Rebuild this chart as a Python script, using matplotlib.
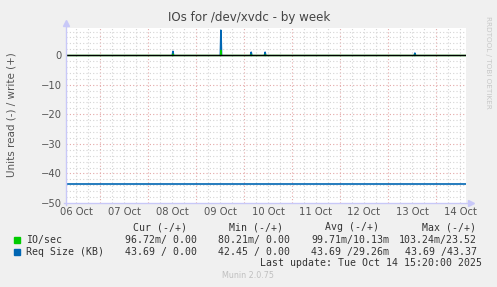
import matplotlib
matplotlib.use('Agg')
import matplotlib.pyplot as plt
from matplotlib.lines import Line2D

W, H = 497, 287

# datos (x en dias desde 07 Oct 00:00)
dias = ['06 Oct', '07 Oct', '08 Oct', '09 Oct', '10 Oct', '11 Oct', '12 Oct', '13 Oct', '14 Oct']
dias_pos = [-0.5, 0.5, 1.5, 2.5, 3.5, 4.5, 5.5, 6.5, 7.5]
x_ini, x_fin = -0.708, 7.625

# escritura (+): picos
picos_t = [1.52, 2.52, 3.15, 3.44, 6.56]
picos_req = [1.3, 8.4, 1.0, 1.0, 0.7]
picos_io = [0.4, 1.7, 0.2, 0.2, 0.1]

# lectura (-)
io_lectura = -0.0997
req_lectura = -43.69

leyenda_nombres = ['IO/sec', 'Req Size (KB)']
leyenda_colores = ['#00CC00', '#0066B3']
cur = ['96.72m/ 0.00', '43.69 / 0.00']
mins = ['80.21m/ 0.00', '42.45 / 0.00']
avgs = ['99.71m/10.13m', '43.69 /29.26m']
maxs = ['103.24m/23.52', '43.69 /43.37']

fig = plt.figure(figsize=(W / 100, H / 100), dpi=100, facecolor='#F0F0F0')
ax = fig.add_axes([66 / W, (H - 203) / H, 400 / W, (203 - 28) / H])
ax.set_facecolor('white')
ax.set_xlim(x_ini, x_fin)
ax.set_ylim(-50, 9.2)

# rejilla
gris = '#d4d4d4'
rojo = '#e4a8a8'
t = -0.75
while t <= x_fin:
    if t > x_ini:
        es_dia = abs(t - round(t)) < 1e-6
        ax.axvline(t, color=rojo if es_dia else gris, lw=0.8, ls=(0, (1, 2)), zorder=1)
    t += 0.25
for y in range(-48, 10, 2):
    ax.axhline(y, color=rojo if y % 10 == 0 else gris, lw=0.8, ls=(0, (1, 2)), zorder=1)

# series de lectura
ax.plot([x_ini, x_fin], [io_lectura, io_lectura], color=leyenda_colores[0], lw=1, zorder=3)
ax.plot([x_ini, x_fin], [req_lectura, req_lectura], color=leyenda_colores[1], lw=1.2, zorder=3)

# picos de escritura
w = 0.012
for tp, r, i in zip(picos_t, picos_req, picos_io):
    ax.plot([tp - w, tp, tp + w], [0, r, 0], color=leyenda_colores[1], lw=1.2, zorder=3)
    ax.plot([tp - w / 2, tp, tp + w / 2], [0, i, 0], color=leyenda_colores[0], lw=0.8, zorder=4)

ax.axhline(0, color='black', lw=1, zorder=5)

for s in ax.spines.values():
    s.set_visible(False)
ax.set_xticks(dias_pos)
ax.set_xticklabels(dias)
ax.set_yticks([0, -10, -20, -30, -40, -50])
ax.tick_params(length=0, labelsize=7.2, labelcolor='#555555', pad=3)

# ejes con flechas
eje = '#c8c8f8'
fig.add_artist(Line2D([66 / W, 66 / W], [(H - 205) / H, (H - 24) / H], color=eje, lw=1))
fig.add_artist(Line2D([64 / W, 470 / W], [(H - 203) / H, (H - 203) / H], color=eje, lw=1))
fig.add_artist(Line2D([66 / W], [(H - 23) / H], marker='^', color=eje, ms=5, lw=0))
fig.add_artist(Line2D([471 / W], [(H - 203) / H], marker='>', color=eje, ms=5, lw=0))

fig.text(249 / W, 1 - 17 / H, 'IOs for /dev/xvdc - by week', ha='center', va='center',
         fontsize=8.6, color='#444444')
fig.text(12 / W, 1 - 115 / H, 'Units read (-) / write (+)', ha='center', va='center',
         rotation=90, fontsize=7.5, color='#555555')
fig.text(488 / W, 1 - 62 / H, 'RRDTOOL / TOBI OETIKER', ha='center', va='center',
         rotation=270, fontsize=5.2, color='#c8c8c8')

mono = dict(family='DejaVu Sans Mono', fontsize=7.1, color='#333333', va='center')
fy = lambda py: 1 - py / H
fig.text(187 / W, fy(227), 'Cur (-/+)', ha='right', **mono)
fig.text(283 / W, fy(227), 'Min (-/+)', ha='right', **mono)
fig.text(379 / W, fy(227), 'Avg (-/+)', ha='right', **mono)
fig.text(476 / W, fy(227), 'Max (-/+)', ha='right', **mono)
for k, py in enumerate([240, 252]):
    fig.patches.append(plt.Rectangle((14 / W, fy(py + 3)), 6 / W, 6 / H,
                                     color=leyenda_colores[k], transform=fig.transFigure))
    fig.text(26 / W, fy(py), leyenda_nombres[k], ha='left', **mono)
    fig.text(197 / W, fy(py), cur[k], ha='right', **mono)
    fig.text(290 / W, fy(py), mins[k], ha='right', **mono)
    fig.text(389 / W, fy(py), avgs[k], ha='right', **mono)
    fig.text(477 / W, fy(py), maxs[k], ha='right', **mono)
fig.text(482 / W, fy(263.5), 'Last update: Tue Oct 14 15:20:00 2025', ha='right', **mono)
fig.text(248 / W, fy(276), 'Munin 2.0.75', ha='center', va='center', fontsize=5.8, color='#c0c0c0')

fig.savefig('out.png', dpi=100, facecolor=fig.get_facecolor())
